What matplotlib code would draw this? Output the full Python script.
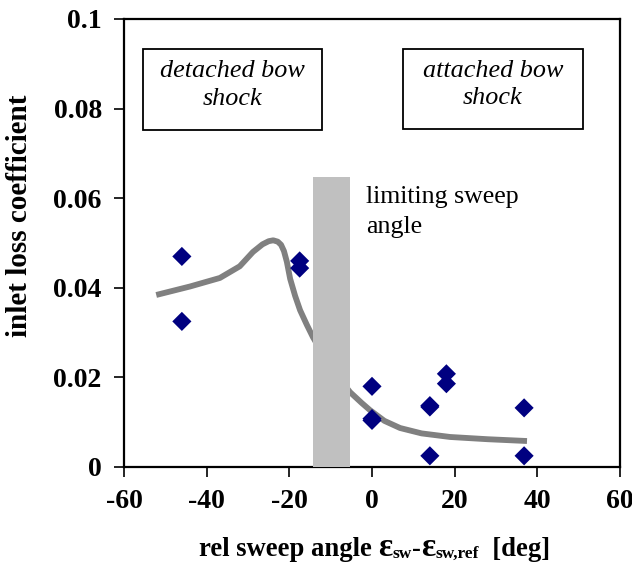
import matplotlib
matplotlib.use("Agg")
import matplotlib.pyplot as plt
from matplotlib.patches import Rectangle

plt.rcParams['font.family'] = ['Liberation Serif', 'DejaVu Serif']

# measured data (diamonds)
meas_x = [-46, -46, -17.5, -17.5, 0, 0, 0, 14, 14, 14, 18, 18, 36.8, 36.8]
meas_y = [0.047, 0.0325, 0.046, 0.0444, 0.018, 0.0108, 0.0104, 0.0137, 0.0134, 0.0025, 0.0208, 0.0186, 0.0132, 0.0025]

# trend curve
curve_x = [-52.2, -44, -36.8, -32, -28.8, -26.5, -25, -23.9, -22.8, -22, -21.3, -20.6, -19.8, -18.6, -17.4,
           -15.8, -14.3, -10, -5.3, -2.5, -0.5, 3, 6.8, 12, 18.9, 28, 37.5]
curve_y = [0.0384, 0.0403, 0.0422, 0.0448, 0.0480, 0.0497, 0.0504, 0.0506, 0.0503, 0.0496, 0.0482, 0.0458, 0.0420,
           0.0382, 0.035, 0.0318, 0.029, 0.0222, 0.0167, 0.0143, 0.0127, 0.0103, 0.0087, 0.0075, 0.0067, 0.0062, 0.0058]

# limiting sweep angle band
band_x0, band_x1 = -14.3, -5.3
band_top = 0.0647

fig = plt.figure(figsize=(6.32, 5.67), dpi=100)
ax = fig.add_axes([124/632, 1-467/567, (620-124)/632, (467-19)/567])

ax.plot(curve_x, curve_y, color='#808080', lw=4.2, solid_capstyle='butt', solid_joinstyle='round', zorder=2)
ax.add_patch(Rectangle((band_x0, 0), band_x1-band_x0, band_top, facecolor='#C0C0C0', edgecolor='none', zorder=3))
ax.scatter(meas_x, meas_y, marker='D', s=95, color='#000080', edgecolors='none', zorder=4)

ax.set_xlim(-60, 60)
ax.set_ylim(0, 0.1)
ax.set_xticks([-60, -40, -20, 0, 20, 40, 60])
ax.set_xticklabels(['-60', '-40', '-20', '0', '20', '40', '60'])
ax.set_yticks([0, 0.02, 0.04, 0.06, 0.08, 0.1])
ax.set_yticklabels(['0', '0.02', '0.04', '0.06', '0.08', '0.1'])
for s in ax.spines.values():
    s.set_linewidth(1.6)
ax.tick_params(direction='out', length=7, width=1.2, labelsize=20, pad=9)
for lab in ax.get_xticklabels() + ax.get_yticklabels():
    lab.set_fontweight('bold')

fig.text(20/632, 1-216/567, 'inlet loss coefficient', fontsize=21, fontweight='bold',
         rotation=90, ha='center', va='center')

# x label built from pieces (large epsilons, small subscripts)
pieces = [('rel sweep angle ', 19.2, False), ('ε', 24, False), ('sw', 12.5, True), ('-', 19.2, False),
          ('ε', 24, False), ('sw,ref', 12.5, True), ('  [deg]', 19.2, False)]
fig.canvas.draw()
renderer = fig.canvas.get_renderer()
xpix = 199.0
base_pix = 556.0
for txt, size, is_sub in pieces:
    yb = base_pix + (2 if is_sub else 0)
    t = fig.text(xpix/632, 1-yb/567, txt, fontsize=size, fontweight='bold', ha='left', va='baseline')
    bb = t.get_window_extent(renderer=renderer)
    xpix += bb.width

# annotation boxes
def box_text(x0, x1, y0, y1, text):
    r = Rectangle((x0, y0), x1-x0, y1-y0, transform=fig.transFigure, facecolor='white',
                  edgecolor='black', lw=1.3, zorder=5)
    fig.add_artist(r)
    fig.text((x0+x1)/2, (y0+y1)/2 + 0.008, text, ha='center', va='center', fontsize=18.8,
             style='italic', linespacing=1.32, zorder=6)

box_text(143/632, 322/632, 1-130/567, 1-49/567, 'detached bow\nshock')
box_text(403/632, 583/632, 1-129/567, 1-49/567, 'attached bow\nshock')

fig.text(366/632, 1-186/567, 'limiting sweep\nangle', ha='left', va='top', fontsize=18.6, linespacing=1.45)

fig.savefig('out.png', dpi=100)
